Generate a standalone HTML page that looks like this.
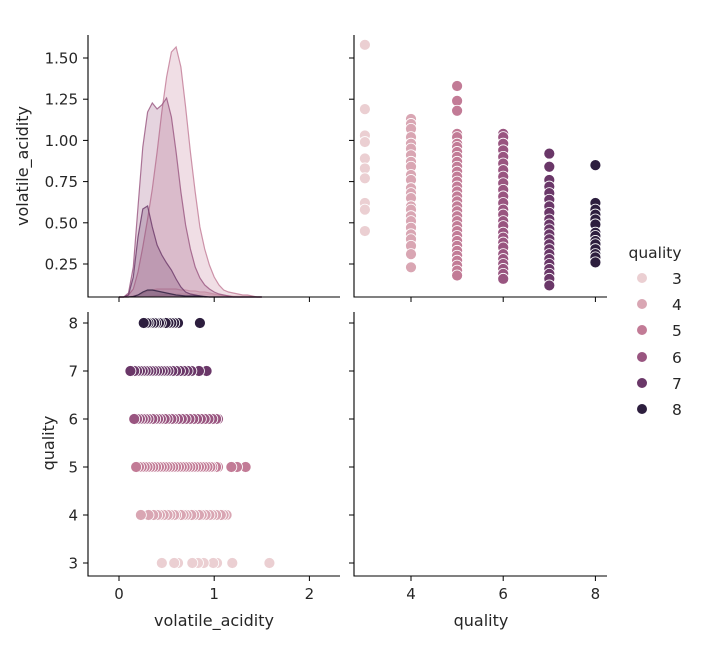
<!DOCTYPE html>
<html><head><meta charset="utf-8"><style>
body{margin:0;background:#fff;}
svg text{font-family:"DejaVu Sans","Liberation Sans",sans-serif;fill:#262626;}
</style></head><body>
<svg id="chart" width="711" height="646" xmlns="http://www.w3.org/2000/svg"></svg>
<script>
const qualities=[3,4,5,6,7,8];
const colors=["#ebcfd2","#d9a6b3","#c27b96","#995580","#6a3768","#2d1e3e"];
const kdeGrid=[0,0.05,0.1,0.15,0.2,0.25,0.3,0.35,0.4,0.45,0.5,0.55,0.6,0.65,0.7,0.75,0.8,0.85,0.9,0.95,1.0,1.05,1.1,1.15,1.2,1.25,1.3,1.35,1.4,1.45,1.5];
const kde3=[0,0,0,0,0,0,0.005,0.01,0.015,0.02,0.025,0.03,0.03,0.03,0.03,0.03,0.03,0.03,0.03,0.025,0.02,0.02,0.015,0.015,0.01,0.01,0.01,0.01,0.005,0,0];
const kde4=[0,0,0,0.01,0.02,0.04,0.06,0.07,0.08,0.08,0.08,0.08,0.08,0.07,0.07,0.06,0.06,0.05,0.05,0.04,0.03,0.02,0.015,0.01,0.005,0,0,0,0,0,0];
const kde5=[0,0,0.02,0.08,0.25,0.5,0.78,1.08,1.45,1.85,2.2,2.45,2.5,2.3,1.9,1.45,1.05,0.7,0.48,0.32,0.2,0.12,0.07,0.05,0.04,0.03,0.02,0.02,0.01,0,0];
const kde6=[0,0,0.04,0.3,0.9,1.5,1.85,1.94,1.88,1.92,1.99,1.8,1.45,1.05,0.72,0.48,0.3,0.19,0.12,0.08,0.05,0.03,0.02,0.01,0,0,0,0,0,0,0];
const kde7=[0,0,0.02,0.2,0.6,0.88,0.91,0.7,0.52,0.42,0.34,0.27,0.18,0.1,0.05,0.03,0.02,0.01,0,0,0,0,0,0,0,0,0,0,0,0,0];
const kde8=[0,0,0,0.005,0.02,0.05,0.07,0.07,0.06,0.05,0.04,0.03,0.02,0.015,0.01,0.01,0.01,0.01,0.005,0,0,0,0,0,0,0,0,0,0,0,0];
const kdes=[kde3,kde4,kde5,kde6,kde7,kde8];
const va3=[1.58,1.19,1.03,0.99,0.89,0.83,0.77,0.62,0.58,0.45];
const va4=[1.13,1.1,1.07,1.02,0.98,0.95,0.91,0.87,0.84,0.79,0.76,0.71,0.68,0.65,0.6,0.58,0.54,0.51,0.47,0.43,0.4,0.36,0.31,0.23];
const va5=[1.33,1.24,1.18,1.04,1.02,0.98,0.96,0.93,0.9,0.87,0.84,0.81,0.78,0.75,0.72,0.69,0.66,0.63,0.6,0.57,0.54,0.51,0.48,0.45,0.42,0.39,0.36,0.33,0.3,0.27,0.24,0.21,0.18];
const va6=[1.04,1.02,0.98,0.94,0.9,0.86,0.82,0.78,0.74,0.7,0.66,0.62,0.58,0.55,0.51,0.48,0.44,0.41,0.38,0.35,0.31,0.28,0.25,0.22,0.19,0.16];
const va7=[0.92,0.84,0.76,0.72,0.68,0.64,0.6,0.56,0.52,0.49,0.46,0.43,0.4,0.37,0.34,0.31,0.28,0.25,0.22,0.19,0.16,0.12];
const va8=[0.85,0.62,0.58,0.55,0.52,0.49,0.44,0.42,0.39,0.37,0.34,0.31,0.29,0.26];
const vas=[va3,va4,va5,va6,va7,va8];
const vaTicksY=[0.25,0.5,0.75,1.0,1.25,1.5];
const vaTickLabelsY=["0.25","0.50","0.75","1.00","1.25","1.50"];
const vaTicksX=[0,1,2];
const qTicksX=[4,6,8];
const qTicksY=[3,4,5,6,7,8];

const NS="http://www.w3.org/2000/svg";
const svg=document.getElementById('chart');
function mk(tag,attrs,parent){const e=document.createElementNS(NS,tag);for(const k in attrs)e.setAttribute(k,attrs[k]);(parent||svg).appendChild(e);return e;}
const xVA=v=>119+v*95.2;
const yVA=v=>264-(v-0.25)*164.8;
const xQ=q=>411+(q-4)*46.1;
const yQ=q=>563-(q-3)*48;
const yKDE=d=>297-d*100;
const T={top:35,bot:297,top2:312,bot2:576,l1:88,r1:340,l2:354,r2:607};

kdes.forEach((arr,i)=>{
  let pts=kdeGrid.map((x,j)=>[xVA(x),yKDE(arr[j])]);
  let d="M"+pts.map(p=>p[0].toFixed(1)+","+p[1].toFixed(1)).join(" L");
  const f=mk('path',{d:d+` L${xVA(1.5)},297 L${xVA(0)},297 Z`,fill:colors[i],'fill-opacity':0.25,stroke:'none'});
  
  
  const l=mk('path',{d:d,fill:'none',stroke:colors[i],'stroke-width':1.2,'stroke-opacity':0.8});
  
  
});
vas.forEach((arr,i)=>{
  arr.forEach(v=>{
    const c=mk('circle',{cx:xQ(qualities[i]),cy:yVA(v),r:5.5,fill:colors[i],stroke:'#fff','stroke-width':0.8});
    
    
    const c2=mk('circle',{cx:xVA(v),cy:yQ(qualities[i]),r:5.5,fill:colors[i],stroke:'#fff','stroke-width':0.8});
    
    
  });
});
[[T.l1,T.top,T.bot,T.r1],[T.l2,T.top,T.bot,T.r2],[T.l1,T.top2,T.bot2,T.r1],[T.l2,T.top2,T.bot2,T.r2]].forEach(a=>{
  const s=mk('path',{d:`M${a[0]},${a[1]} V${a[2]} H${a[3]}`,fill:'none',stroke:'#000','stroke-width':1.1});
  
  
});
function tickX(x,y,label){mk('line',{x1:x,x2:x,y1:y,y2:y+5,stroke:'#000'});if(label!==null){const t=mk('text',{x:x,y:y+23,'text-anchor':'middle','font-size':15});t.textContent=label;}}
function tickY(x,y,label){mk('line',{x1:x,x2:x-5,y1:y,y2:y,stroke:'#000'});if(label!==null){const t=mk('text',{x:x-10,y:y+5.5,'text-anchor':'end','font-size':15});t.textContent=label;}}
vaTicksX.forEach(v=>{tickX(xVA(v),T.bot,null);tickX(xVA(v),T.bot2,String(v));});
qTicksX.forEach(q=>{tickX(xQ(q),T.bot,null);tickX(xQ(q),T.bot2,String(q));});
vaTicksY.forEach((v,i)=>{tickY(T.l1,yVA(v),vaTickLabelsY[i]);tickY(T.l2,yVA(v),null);});
qTicksY.forEach(q=>{tickY(T.l1,yQ(q),String(q));tickY(T.l2,yQ(q),null);});
</script>
<svg style="position:absolute;left:0;top:0" width="711" height="646" xmlns="http://www.w3.org/2000/svg">
<text x="0" y="0" transform="translate(28,166) rotate(-90)" text-anchor="middle" font-size="16">volatile_acidity</text>
<text x="0" y="0" transform="translate(54,443) rotate(-90)" text-anchor="middle" font-size="16">quality</text>
<text x="214" y="626" text-anchor="middle" font-size="16">volatile_acidity</text>
<text x="481" y="626" text-anchor="middle" font-size="16">quality</text>
<g>
<text x="655" y="258" text-anchor="middle" font-size="15.5">quality</text>
<g><circle cx="642" cy="278" r="5" fill="#ebcfd2"/><text x="672" y="284" font-size="15.5">3</text></g>
<g><circle cx="642" cy="304" r="5" fill="#d9a6b3"/><text x="672" y="310" font-size="15.5">4</text></g>
<g><circle cx="642" cy="330" r="5" fill="#c27b96"/><text x="672" y="336" font-size="15.5">5</text></g>
<g><circle cx="642" cy="357" r="5" fill="#995580"/><text x="672" y="363" font-size="15.5">6</text></g>
<g><circle cx="642" cy="383" r="5" fill="#6a3768"/><text x="672" y="389" font-size="15.5">7</text></g>
<g><circle cx="642" cy="409" r="5" fill="#2d1e3e"/><text x="672" y="415" font-size="15.5">8</text></g>
</g>
</svg>
</body></html>
